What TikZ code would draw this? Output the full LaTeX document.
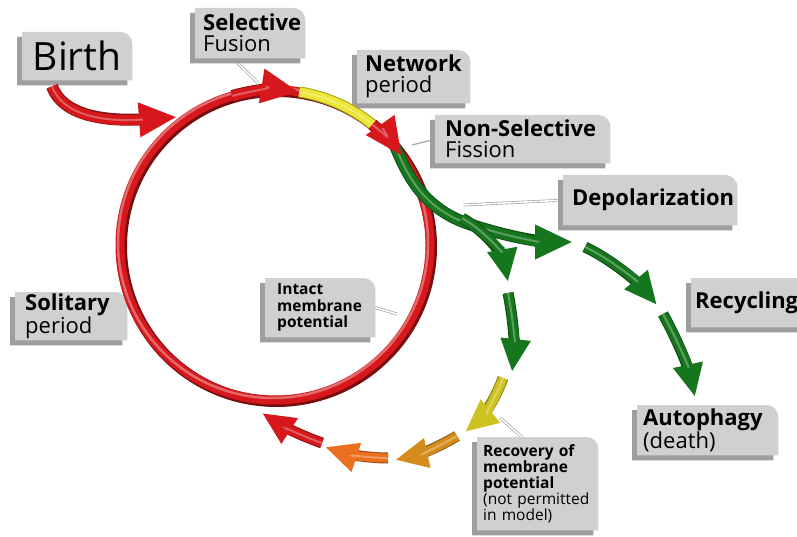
\documentclass[tikz,border=0pt]{standalone}
\usepackage{fontspec}
\setmainfont{Open Sans}
\usetikzlibrary{arrows.meta,backgrounds,calc}

\definecolor{tubered}{RGB}{214,24,28}
\definecolor{tubeyellow}{RGB}{236,230,52}
\definecolor{tubegreen}{RGB}{22,118,30}
\definecolor{tubeolive}{RGB}{204,194,32}
\definecolor{tubeamber}{RGB}{214,140,28}
\definecolor{tubeorange}{RGB}{234,112,30}
\definecolor{boxface}{RGB}{208,208,208}
\definecolor{boxshade}{RGB}{158,158,158}

\tikzset{
 band/.style={line width=9pt, draw=#1,
   preaction={draw=#1!70!black, line width=11pt},
   postaction={draw=#1!70!white, line width=2pt}},
 tube/.style={line width=10pt, draw=#1, -{Triangle[width=32pt,length=38pt]},
   preaction={draw=#1!65!black, line width=12pt, -, shorten >=24pt},
   postaction={draw=#1!70!white, line width=2pt, -, shorten >=34pt}},
 tubesmall/.style={line width=9pt, draw=#1, -{Triangle[width=28pt,length=33pt]},
   preaction={draw=#1!65!black, line width=11pt, -, shorten >=20pt},
   postaction={draw=#1!70!white, line width=2pt, -, shorten >=30pt}},
 tag/.style={anchor=north west, inner xsep=8pt, inner ysep=0pt, align=left,
   font=\fontsize{22}{21}\selectfont},
 smalltag/.style={tag, font=\fontsize{15.5}{16.5}\selectfont},
 pinline/.style={draw=gray!80, line width=0.6pt, double=white, double distance=1.6pt},
 pinsingle/.style={draw=gray!70, line width=1.2pt}
}

% box with shadow, round top right corner
\newcommand{\tagbox}[1]{%
 \fill[boxshade] ([shift={(-5,5)}]#1.south west) -- ([shift={(-5,5)}]#1.north west)
   -- ([shift={(-17,5)}]#1.north east) arc[start angle=-90,end angle=0,radius=12]
   -- ([shift={(-5,5)}]#1.south east) -- cycle;
 \fill[boxface] (#1.south west) -- (#1.north west)
   -- ([xshift=-12pt]#1.north east) arc[start angle=-90,end angle=0,radius=12]
   -- (#1.south east) -- cycle;}

\begin{document}
\begin{tikzpicture}[x=1pt,y=-1pt]
 \useasboundingbox (0,0) rectangle (797,537);

 % labels
 \node[tag, align=center, text width=94pt, minimum height=48pt,
   font=\fontsize{39}{40}\selectfont] (birth) at (22,32) {Birth};
 \node[tag, text width=94pt, minimum height=50pt] (sel) at (195,8) {\textbf{Selective}\\Fusion};
 \node[tag, text width=97pt, minimum height=53pt] (net) at (357,50) {\textbf{Network}\\period};
 \node[tag, inner xsep=10pt, text width=155pt, minimum height=48pt] (nsf) at (435,115) {\textbf{Non-Selective}\\Fission};
 \node[tag, inner xsep=9pt, text width=156pt, minimum height=50pt] (depol) at (563,175) {\textbf{Depolarization}};
 \node[tag, inner xsep=4pt, text width=122pt, minimum height=49pt] (recyc) at (691,278) {\textbf{Recycling}};
 \node[tag, inner xsep=6pt, text width=129pt, minimum height=50pt] (auto) at (637,405) {\textbf{Autophagy}\\(death)};
 \node[tag, inner xsep=10pt, text width=92pt, minimum height=48pt] (solit) at (15,292) {\textbf{Solitary}\\period};
 \node[smalltag, inner xsep=12pt, text width=86pt, minimum height=59pt] (intact) at (265,278)
   {\textbf{Intact}\\\textbf{membrane}\\\textbf{potential}};
 \node[smalltag, inner xsep=6pt, inner ysep=6pt, text width=109pt, minimum height=93pt,
   font=\fontsize{15.5}{16}\selectfont] (recov) at (477,437)
   {\textbf{Recovery of}\\\textbf{membrane}\\\textbf{potential}\\(not permitted\\in model)};

 \coordinate (hub) at (275,245);
 \coordinate (selpin) at (258,83);
 \coordinate (nsfpin) at (412,145);
 \coordinate (depolpin) at (463,205);
 \coordinate (intactpin) at (397,314);
 \coordinate (recovpin) at (500,418);

 \begin{scope}[on background layer]
  \draw[pinline] ([xshift=38pt]sel.south west) -- (selpin);
  \draw[pinsingle] (nsf.west) -- (nsfpin);
  \draw[pinline] (depol.west) -- (depolpin);
  \draw[pinline] (intact.east) -- (intactpin);
  \draw[pinline] ([xshift=45pt]recov.north west) -- (recovpin);
  \tagbox{birth} \tagbox{sel} \tagbox{net} \tagbox{nsf} \tagbox{depol}
  \tagbox{recyc} \tagbox{auto} \tagbox{solit} \tagbox{intact} \tagbox{recov}
 \end{scope}

 % the cycle
 \draw[line width=11pt, tubered!55!black] ([shift={(1.5,1.5)}]hub) circle[radius=155];
 \draw[line width=9pt, tubered] (hub) circle[radius=155];
 \draw[line width=2.5pt, tubered!65!white] ([shift={(-2,-2)}]hub) circle[radius=155];
 \draw[band=tubeyellow] (hub) ++(-81:155) arc[start angle=-81,end angle=-46,radius=155];
 \draw[tube=tubered] (hub) ++(-106:155) arc[start angle=-106,end angle=-81,radius=155];
 \draw[tube=tubered] ([shift={(30,6)}]birth.south west) .. controls (64,118) and (110,122) .. (177,117);

 % depolarized branch
 \draw[tube=tubegreen] (396,148) .. controls (410,182) and (428,212) .. (475,226)
   .. controls (510,237) and (540,242) .. (573,242);
 \draw[tubesmall=tubegreen] (462,218) .. controls (486,232) and (503,254) .. (508,282);
 \draw[tube=tubered] (hub) ++(-51:155) arc[start angle=-51,end angle=-35,radius=155];

 \draw[tubesmall=tubegreen] (585,247) .. controls (612,260) and (638,282) .. (657,305);
 \draw[tubesmall=tubegreen] (663,314) .. controls (676,338) and (688,365) .. (695,397);
 \draw[tubesmall=tubegreen] (508,293) .. controls (513,318) and (515,345) .. (512,372);
 \draw[tubesmall=tubeolive] (503,378) .. controls (495,400) and (482,418) .. (465,432);
 \draw[tubesmall=tubeamber] (457,436) .. controls (437,448) and (418,455) .. (395,460);
 \draw[tubesmall=tubeorange] (388,458) .. controls (368,458) and (346,454) .. (325,447);
 \draw[tubesmall=tubered] (322,443) .. controls (302,436) and (282,426) .. (262,413);
\end{tikzpicture}
\end{document}
